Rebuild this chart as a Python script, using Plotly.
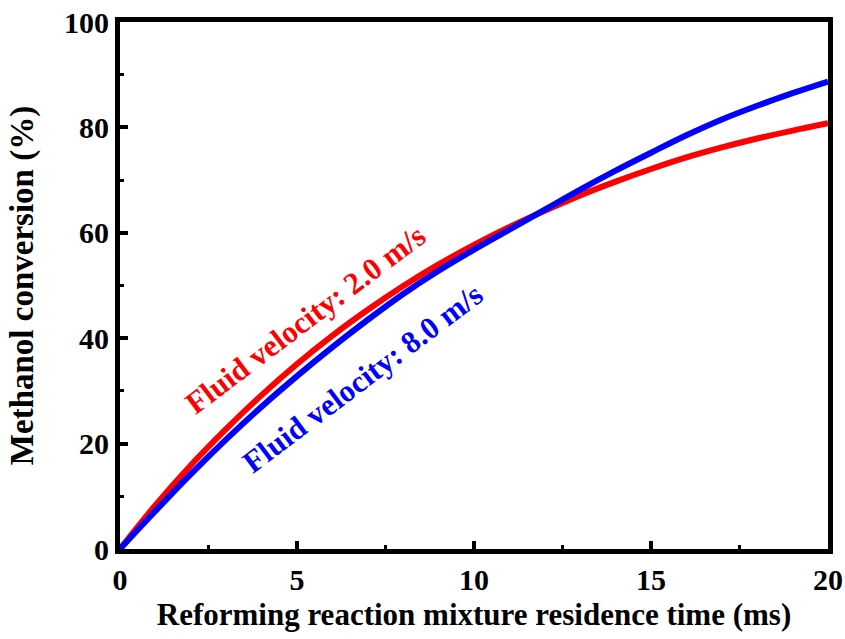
import plotly.graph_objects as go

time_ms = [0, 1, 2, 3, 4, 5, 6, 7, 8, 9, 10, 11, 12, 13, 14, 15, 16, 17, 18, 19, 20]
conv_v2 = [0, 8.3, 15.9, 22.8, 29.2, 35.1, 40.5, 45.4, 49.9, 54.0, 57.7, 61.1, 64.2, 67.1, 69.7, 72.1, 74.3, 76.2, 77.9, 79.4, 80.8]
conv_v8 = [0, 7.2, 14.2, 20.8, 27.0, 32.8, 38.3, 43.5, 48.4, 52.8, 56.8, 60.6, 64.4, 68.2, 71.8, 75.2, 78.5, 81.5, 84.1, 86.5, 88.7]
label_v2 = "Fluid velocity: 2.0 m/s"
label_v8 = "Fluid velocity: 8.0 m/s"
x_ticks = [0, 5, 10, 15, 20]
y_ticks = [0, 20, 40, 60, 80, 100]

FONT = "Liberation Serif"

fig = go.Figure()
fig.add_trace(go.Scatter(x=time_ms, y=conv_v2, mode="lines", line=dict(color="#ff0000", width=6, shape="spline"), showlegend=False))
fig.add_trace(go.Scatter(x=time_ms, y=conv_v8, mode="lines", line=dict(color="#0000ff", width=6, shape="spline"), showlegend=False))

fig.add_annotation(x=5.23, y=43.5, xref="x", yref="y", text=label_v2, showarrow=False,
                   textangle=-37, font=dict(family=FONT, size=31, color="#ff0000", weight="bold"))
fig.add_annotation(x=6.84, y=32.4, xref="x", yref="y", text=label_v8, showarrow=False,
                   textangle=-37, font=dict(family=FONT, size=31, color="#0000ff", weight="bold"))

axis_common = dict(showline=True, linewidth=5, linecolor="black", mirror=True, showgrid=False, zeroline=False,
                   ticks="inside", ticklen=8, tickwidth=4, tickcolor="black", automargin=False,
                   ticklabeloverflow="allow",
                   tickfont=dict(family=FONT, size=30, color="black", weight="bold"))

fig.update_xaxes(range=[0, 20], tickvals=x_ticks, ticktext=[str(v) for v in x_ticks],
                 minor=dict(ticks="inside", ticklen=4, tickwidth=3, dtick=2.5, tick0=0, tickcolor="black"),
                 title=dict(text="Reforming reaction mixture residence time (ms)", font=dict(family=FONT, size=31, color="black", weight="bold"), standoff=10),
                 **axis_common)
fig.update_yaxes(range=[0, 100], tickvals=y_ticks, ticktext=[str(v) for v in y_ticks],
                 minor=dict(ticks="inside", ticklen=4, tickwidth=3, dtick=10, tick0=0, tickcolor="black"),
                 title=dict(text="Methanol conversion (%)", font=dict(family=FONT, size=33, color="black", weight="bold"), standoff=22),
                 **axis_common)

fig.update_layout(width=845, height=639, margin=dict(l=120, r=17, t=22, b=90, autoexpand=False),
                  plot_bgcolor="white", paper_bgcolor="white")

fig.write_html("out.html", config={"displayModeBar": False},
               post_script="document.body.style.margin='0';document.body.style.overflow='hidden';")
